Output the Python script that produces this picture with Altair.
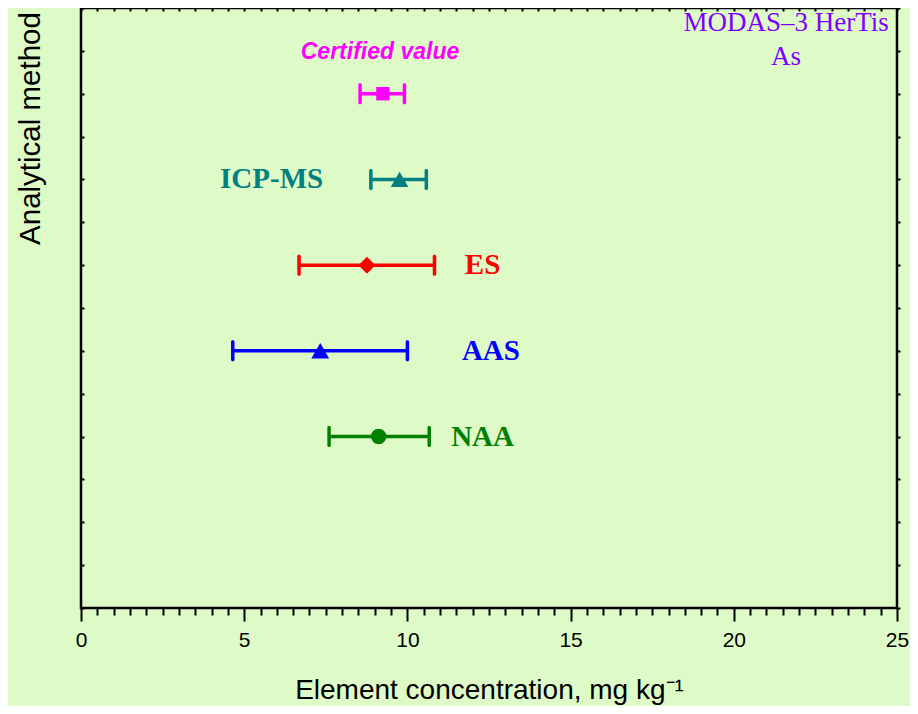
import altair as alt
import pandas as pd

# ---- data ----
methods = ["Certified value", "ICP-MS", "ES", "AAS", "NAA"]
rows = [12, 10, 8, 6, 4]
means = [9.25, 9.76, 8.76, 7.33, 9.12]
lows = [8.55, 8.88, 6.68, 4.65, 7.60]
highs = [9.91, 10.58, 10.83, 10.00, 10.67]
colors = ["#FF00FF", "#008080", "#FF0000", "#0000FF", "#008000"]
shapes = ["square", "triangle-up", "diamond", "triangle-up", "circle"]
sizes = [180, 310, 290, 320, 240]

# method labels (serif bold)
lab_text = ["ICP-MS", "ES", "AAS", "NAA"]
lab_x = [4.26, 11.76, 11.67, 11.34]
lab_y = [10, 8, 6, 4]

cert_text = ["Certified value"]
cert_x = [9.16]
cert_y = [12.98]

title_text = ["MODAS\u20133 HerTis", "As"]
title_x = [21.6, 21.6]
title_y = [13.64, 12.85]

x_ticks = [i * 0.5 for i in range(51)]
y_ticks = list(range(15))

BG = "#DEFAC6"

df = pd.DataFrame({"method": methods, "row": rows, "mean": means,
                   "low": lows, "high": highs, "size": sizes})
df_lab = pd.DataFrame({"method": lab_text, "x": lab_x, "y": lab_y})
df_cert = pd.DataFrame({"t": cert_text, "x": cert_x, "y": cert_y})
df_title = pd.DataFrame({"t": title_text, "x": title_x, "y": title_y})

xs = alt.Scale(domain=[0, 25], nice=False, zero=False)
ys = alt.Scale(domain=[0, 14], nice=False, zero=False)
cs = alt.Scale(domain=methods, range=colors)
ss = alt.Scale(domain=methods, range=shapes)

bottom_axis = alt.Axis(
    orient="bottom", values=x_ticks, domain=False, grid=False,
    labelExpr="datum.value % 5 === 0 ? format(datum.value, 'd') : ''",
    labelFont="Liberation Sans", labelFontSize=21, labelColor="black",
    labelPadding=8, labelFlush=False, labelOverlap=False,
    tickColor="black", tickWidth=2,
    tickSize={"condition": {"test": "datum.value % 5 === 0", "value": 13}, "value": 7},
    title="Element concentration, mg kg\u207b\u00b9",
    titleFont="Liberation Sans", titleFontSize=28, titleFontWeight="normal",
    titleColor="black", titleBaseline="alphabetic", titleY=90,
)
left_axis = alt.Axis(
    orient="left", values=y_ticks, domain=False, grid=False, labels=False,
    tickColor="black", tickWidth=2, tickSize=3, offset=-3,
    title="Analytical method", titleFont="Liberation Sans", titleFontSize=29.5,
    titleFontWeight="normal", titleColor="black", titleAngle=270,
    titleAlign="center", titleBaseline="middle", titleX=-54, titleY=120,
)
top_axis = alt.Axis(
    orient="top", values=x_ticks, domain=False, grid=False, labels=False,
    tickColor="black", tickWidth=2, tickSize=3, offset=-3, title=None,
)
right_axis = alt.Axis(
    orient="right", values=y_ticks, domain=False, grid=False, labels=False,
    tickColor="black", tickWidth=2, tickSize=3, title=None,
)

base = alt.Chart(df)

bars = base.mark_rule(strokeWidth=3.5).encode(
    x=alt.X("low:Q", scale=xs, axis=bottom_axis),
    x2="high:Q",
    y=alt.Y("row:Q", scale=ys, axis=left_axis),
    color=alt.Color("method:N", scale=cs, legend=None),
)

caps_lo = base.mark_tick(orient="vertical", thickness=3.5, size=21, cornerRadius=1.5, opacity=1).encode(
    x=alt.X("low:Q", scale=xs, axis=top_axis),
    y=alt.Y("row:Q", scale=ys, axis=right_axis),
    color=alt.Color("method:N", scale=cs, legend=None),
)
caps_hi = base.mark_tick(orient="vertical", thickness=3.5, size=21, cornerRadius=1.5, opacity=1).encode(
    x=alt.X("high:Q", scale=xs, axis=None),
    y=alt.Y("row:Q", scale=ys, axis=None),
    color=alt.Color("method:N", scale=cs, legend=None),
)

points = base.mark_point(filled=True, opacity=1).encode(
    x=alt.X("mean:Q", scale=xs, axis=None),
    y=alt.Y("row:Q", scale=ys, axis=None),
    color=alt.Color("method:N", scale=cs, legend=None),
    shape=alt.Shape("method:N", scale=ss, legend=None),
    size=alt.Size("size:Q", scale=None, legend=None),
)

labels = alt.Chart(df_lab).mark_text(
    font="Liberation Serif", fontSize=29, fontWeight="bold",
    align="left", baseline="middle",
).encode(
    x=alt.X("x:Q", scale=xs, axis=None),
    y=alt.Y("y:Q", scale=ys, axis=None),
    text="method:N",
    color=alt.Color("method:N", scale=cs, legend=None),
)

cert = alt.Chart(df_cert).mark_text(
    font="Liberation Sans", fontSize=23, fontWeight="bold",
    fontStyle="italic", align="center", baseline="middle", color="#FF00FF",
).encode(
    x=alt.X("x:Q", scale=xs, axis=None),
    y=alt.Y("y:Q", scale=ys, axis=None),
    text="t:N",
)

title = alt.Chart(df_title).mark_text(
    font="Liberation Serif", fontSize=27, fontWeight="normal",
    align="center", baseline="middle", color="#8000FF",
).encode(
    x=alt.X("x:Q", scale=xs, axis=None),
    y=alt.Y("y:Q", scale=ys, axis=None),
    text="t:N",
)

chart = alt.layer(bars, caps_lo, caps_hi, points, labels, cert, title).resolve_axis(
    x="independent", y="independent"
).properties(
    width=816, height=600,
    autosize=alt.AutoSizeParams(type="none"),
    padding={"left": 73, "top": 0, "right": 13, "bottom": 98},
    background=BG,
).configure_view(
    fill=BG, stroke="black", strokeWidth=2.5,
)

chart.save("out.html", embed_options={"renderer": "svg", "actions": False})
